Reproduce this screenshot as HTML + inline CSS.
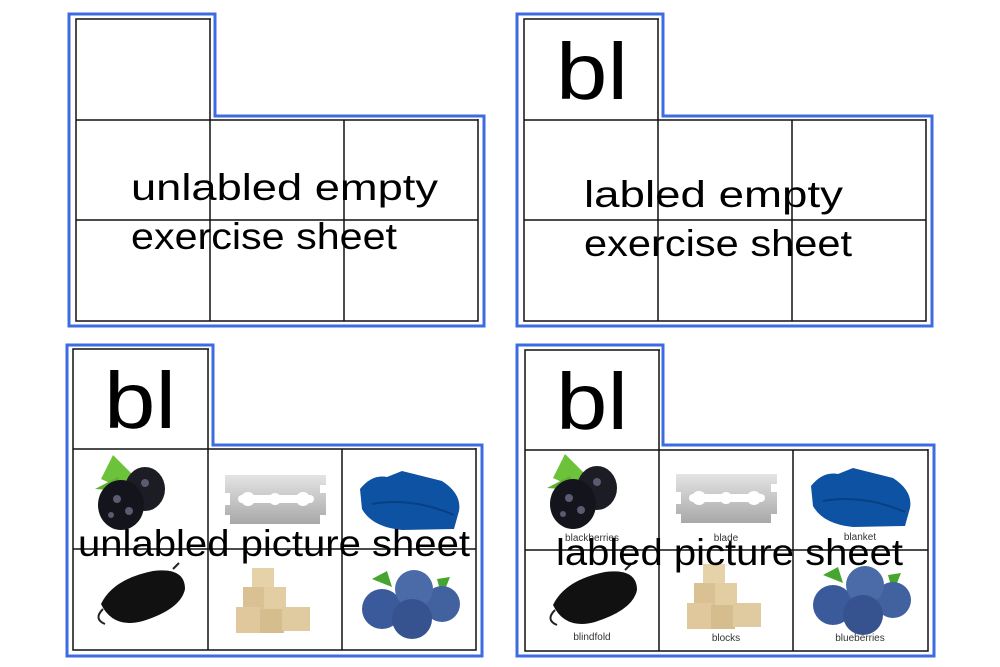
<!DOCTYPE html>
<html><head><meta charset="utf-8"><style>
html,body{margin:0;padding:0;background:#fff;}
svg{display:block;}
text{font-family:"Liberation Sans",sans-serif;}
</style></head><body>
<svg width="1000" height="667" viewBox="0 0 1000 667" xmlns="http://www.w3.org/2000/svg">
<defs>
<linearGradient id="bg" x1="0" y1="0" x2="0" y2="1"><stop offset="0" stop-color="#e4e4e4"/><stop offset="1" stop-color="#a8a8a8"/></linearGradient>
<g id="berry">
 <path d="M28 30 L40 6 L62 28 L50 40 Z" fill="#6cc23a"/>
 <path d="M22 40 L45 28 L50 42 Z" fill="#5fb030"/>
 <ellipse cx="72" cy="40" rx="20" ry="22" fill="#1c1c24"/>
 <ellipse cx="48" cy="56" rx="23" ry="25" fill="#14141c"/>
 <circle cx="44" cy="50" r="4" fill="#5a5a70"/><circle cx="56" cy="62" r="4" fill="#5a5a70"/><circle cx="72" cy="34" r="4" fill="#5a5a70"/><circle cx="38" cy="66" r="3" fill="#5a5a70"/>
</g>
<g id="blade">
 <path d="M17 26 H118 V36 H112 V44 H118 V66 H112 V75 H22 V66 H17 V56 H22 V44 H17 Z" fill="url(#bg)"/>
 <rect x="30" y="46" width="76" height="8" rx="4" fill="#fff"/>
 <circle cx="40" cy="50" r="7" fill="#fff"/><circle cx="67" cy="50" r="6" fill="#fff"/><circle cx="95" cy="50" r="7" fill="#fff"/>
</g>
<g id="blanket">
 <path d="M18 40 Q30 25 45 28 L60 22 L100 32 Q120 45 117 62 L112 80 L60 81 Q30 78 20 60 Z" fill="#0e52a4"/>
 <path d="M30 55 Q70 48 112 66" stroke="#0a3f82" stroke-width="2" fill="none"/>
</g>
<g id="mask">
 <path d="M28 55 Q40 30 80 22 Q112 18 112 40 Q108 60 70 72 Q40 80 28 55 Z" fill="#111"/>
 <path d="M30 60 Q20 70 32 75" stroke="#222" stroke-width="2" fill="none"/>
 <path d="M100 20 L106 14" stroke="#222" stroke-width="2"/>
</g>
<g id="blocks">
 <rect x="44" y="19" width="22" height="22" fill="#e6d2a8"/>
 <rect x="35" y="38" width="22" height="22" fill="#d9c194"/><rect x="56" y="38" width="22" height="22" fill="#e3cea3"/>
 <rect x="28" y="58" width="26" height="26" fill="#e0c89c"/><rect x="52" y="60" width="24" height="24" fill="#d6bd8e"/><rect x="74" y="58" width="28" height="24" fill="#e0cba0"/>
</g>
<g id="blues">
 <path d="M30 30 L45 22 L50 38 Z M95 30 L108 28 L100 48 Z" fill="#45a52f"/>
 <circle cx="40" cy="60" r="20" fill="#3b5a9c"/><circle cx="100" cy="55" r="18" fill="#41629f"/>
 <circle cx="72" cy="40" r="19" fill="#4a6aa8"/><circle cx="70" cy="70" r="20" fill="#36528f"/>
</g>
</defs>

<!-- Panel 1 -->
<g fill="none" stroke="#111" stroke-width="1.5">
 <rect x="76" y="19" width="402" height="302"/>
 <line x1="210" y1="19" x2="210" y2="321"/><line x1="344" y1="120" x2="344" y2="321"/>
 <line x1="76" y1="120" x2="478" y2="120"/><line x1="76" y1="220" x2="478" y2="220"/>
</g>
<rect x="211" y="10" width="280" height="109" fill="#fff"/>
<path d="M69 14 H215 V116 H484 V326 H69 Z" fill="none" stroke="#3d6be0" stroke-width="3"/>
<text x="131" y="200" font-size="37" textLength="307" lengthAdjust="spacingAndGlyphs">unlabled empty</text>
<text x="131" y="249" font-size="37" textLength="266" lengthAdjust="spacingAndGlyphs">exercise sheet</text>

<!-- Panel 2 -->
<g fill="none" stroke="#111" stroke-width="1.5">
 <rect x="524" y="19" width="402" height="302"/>
 <line x1="658" y1="19" x2="658" y2="321"/><line x1="792" y1="120" x2="792" y2="321"/>
 <line x1="524" y1="120" x2="926" y2="120"/><line x1="524" y1="220" x2="926" y2="220"/>
</g>
<rect x="659" y="10" width="280" height="109" fill="#fff"/>
<path d="M517 14 H663 V116 H932 V326 H517 Z" fill="none" stroke="#3d6be0" stroke-width="3"/>
<text x="556" y="99" font-size="80" textLength="72" lengthAdjust="spacingAndGlyphs">bl</text>
<text x="584" y="207" font-size="37" textLength="259" lengthAdjust="spacingAndGlyphs">labled empty</text>
<text x="584" y="256" font-size="37" textLength="268" lengthAdjust="spacingAndGlyphs">exercise sheet</text>

<!-- Panel 3 -->
<g fill="none" stroke="#111" stroke-width="1.5">
 <rect x="73" y="349" width="403" height="301"/>
 <line x1="208" y1="349" x2="208" y2="650"/><line x1="342" y1="449" x2="342" y2="650"/>
 <line x1="73" y1="449" x2="476" y2="449"/>
</g>
<rect x="209" y="340" width="280" height="108" fill="#fff"/>
<path d="M67 345 H213 V445 H482 V656 H67 Z" fill="none" stroke="#3d6be0" stroke-width="3"/>
<use href="#berry" x="73" y="449"/><use href="#blade" x="208" y="449"/><use href="#blanket" x="342" y="449"/>
<use href="#mask" x="73" y="549"/><use href="#blocks" x="208" y="549"/><use href="#blues" x="342" y="549"/>
<line x1="73" y1="549" x2="476" y2="549" stroke="#111" stroke-width="1.5"/>
<text x="104" y="428" font-size="80" textLength="72" lengthAdjust="spacingAndGlyphs">bl</text>
<text x="78" y="556" font-size="37" textLength="392" lengthAdjust="spacingAndGlyphs">unlabled picture sheet</text>

<!-- Panel 4 -->
<g fill="none" stroke="#111" stroke-width="1.5">
 <rect x="525" y="350" width="403" height="301"/>
 <line x1="659" y1="350" x2="659" y2="651"/><line x1="793" y1="450" x2="793" y2="651"/>
 <line x1="525" y1="450" x2="928" y2="450"/>
</g>
<rect x="660" y="340" width="280" height="109" fill="#fff"/>
<path d="M517 345 H663 V445 H934 V656 H517 Z" fill="none" stroke="#3d6be0" stroke-width="3"/>
<use href="#berry" x="525" y="448"/><use href="#blade" x="659" y="448"/><use href="#blanket" x="793" y="446"/>
<use href="#mask" x="525" y="550"/><use href="#blocks" x="659" y="545"/><use href="#blues" x="793" y="545"/>
<line x1="525" y1="550" x2="928" y2="550" stroke="#111" stroke-width="1.5"/>
<g font-size="10" fill="#333" text-anchor="middle">
 <text x="592" y="541">blackberries</text><text x="726" y="541">blade</text><text x="860" y="540">blanket</text>
 <text x="592" y="640">blindfold</text><text x="726" y="641">blocks</text><text x="860" y="641">blueberries</text>
</g>
<text x="556" y="429" font-size="80" textLength="72" lengthAdjust="spacingAndGlyphs">bl</text>
<text x="556" y="565" font-size="37" textLength="347" lengthAdjust="spacingAndGlyphs">labled picture sheet</text>
</svg>
</body></html>
